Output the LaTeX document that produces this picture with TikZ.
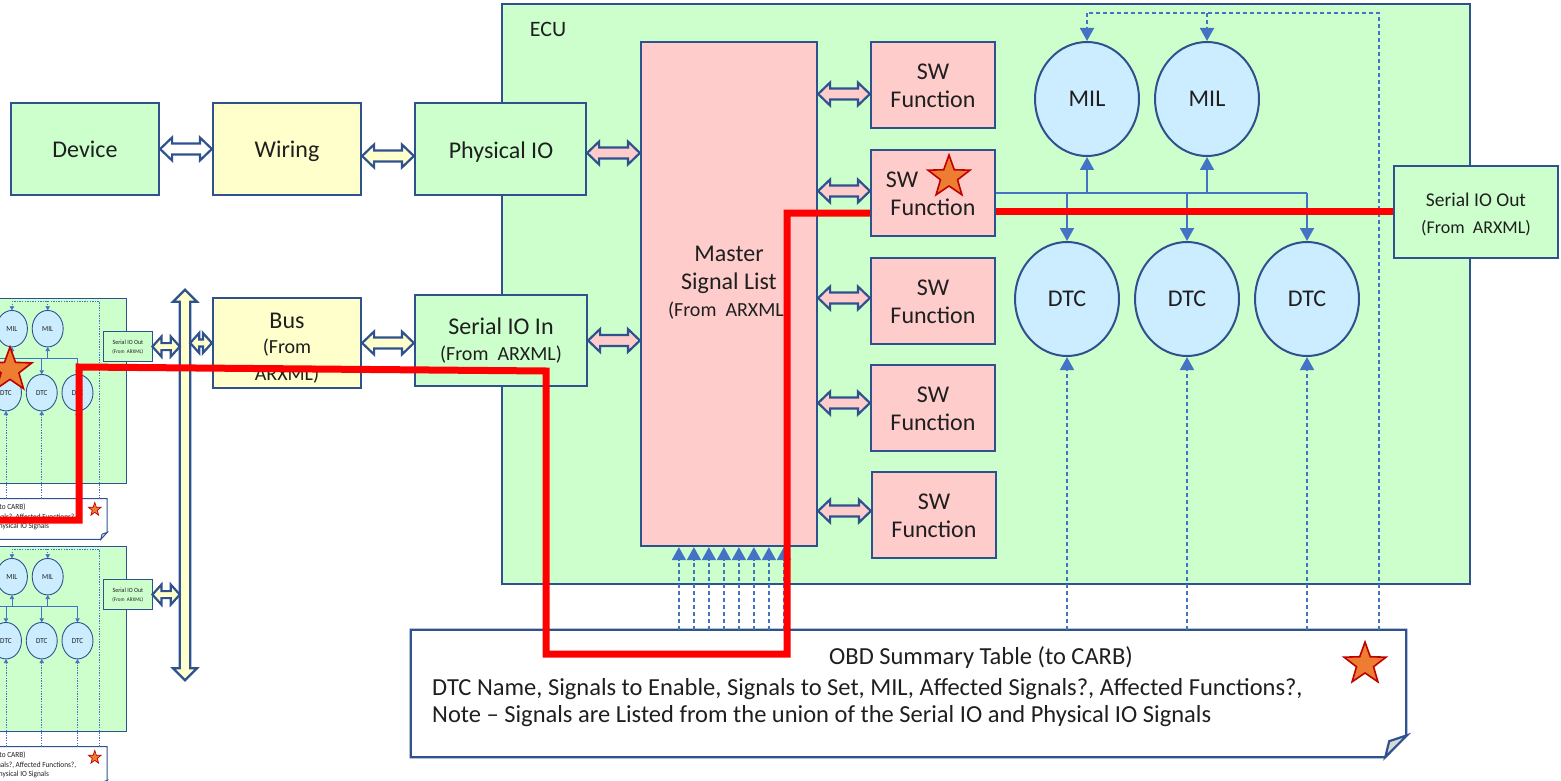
\documentclass[tikz,border=0pt]{standalone}
\usepackage{fontspec}
\setmainfont{Carlito}
\usetikzlibrary{shapes.geometric,arrows.meta,calc}

\definecolor{bord}{HTML}{2F528F}
\definecolor{gfill}{HTML}{CCFFCC}
\definecolor{yfill}{HTML}{FFFFCC}
\definecolor{pfill}{HTML}{FFCCCC}
\definecolor{bfill}{HTML}{CCECFF}
\definecolor{conn}{HTML}{4472C4}
\definecolor{starfill}{HTML}{ED7D31}
\definecolor{starline}{HTML}{C00000}
\definecolor{txt}{HTML}{1F1F1F}
\definecolor{foldgray}{HTML}{D9D9D9}

% line widths and tip sizes (smaller values are set inside the thumbnails)
\def\bw{2.2pt}\def\cw{2pt}\def\lw{1.6pt}\def\aw{14pt}\def\al{13pt}
\def\don{4pt}\def\doff{3pt}\def\stw{1.6pt}

\tikzset{
  box/.style={draw=bord,line width=\bw,inner sep=0pt},
  grn/.style={box,fill=gfill},
  ylw/.style={box,fill=yfill},
  pnk/.style={box,fill=pfill},
  circ/.style={ellipse,draw=bord,line width=\cw,fill=bfill,
    minimum width=104,minimum height=114,inner sep=0pt},
  tx/.style 2 args={inner sep=0pt,text=txt,font=\fontsize{#1}{#1}\selectfont,
    text height=#2,text depth=0pt},
  link/.style={draw=conn,line width=\lw},
  tip/.style={-{Triangle[width=\aw,length=\al]}},
  dlink/.style={link,dash pattern=on \don off \doff},
  dblar/.style={draw=bord,line width=\bw,line join=miter},
  redline/.style={draw=red,line width=7pt,line join=miter},
  starn/.style={star,star points=5,star point ratio=2.45,minimum size=#1,
    inner sep=0pt,fill=starfill,draw=starline,line width=\stw},
}

% horizontal block double arrow between two points:
% fill, left point, right point, head length, head half-width, shaft half-width
\newcommand\hdbl[6]{%
  \draw[dblar,fill=#1] let \p1=#2, \p2=#3 in
    (\x1,\y1) -- (\x1+#4,\y1+#5) -- (\x1+#4,\y1+#6) -- (\x2-#4,\y1+#6)
    -- (\x2-#4,\y1+#5) -- (\x2,\y1) -- (\x2-#4,\y1-#5) -- (\x2-#4,\y1-#6)
    -- (\x1+#4,\y1-#6) -- (\x1+#4,\y1-#5) -- cycle;}
\newcommand\bdbl[3]{\hdbl{#1}{#2}{#3}{12pt}{11.5pt}{5.5pt}}
\newcommand\sdbl[3]{\hdbl{#1}{#2}{#3}{9pt}{10pt}{3.5pt}}

% MIL / DTC lamps, their links and the OBD summary note
\newcommand\ecuright[1]{%
  \node[circ] (mila#1) at (1087,99) {};
  \node[circ] (milb#1) at (1207,99) {};
  \node[circ] (dtca#1) at (1067,299) {};
  \node[circ] (dtcb#1) at (1187,299) {};
  \node[circ] (dtcc#1) at (1307,299) {};
  \node[tx={24}{15.5pt}] (milat#1) at (mila#1) {MIL};
  \node[tx={24}{15.5pt}] (milbt#1) at (milb#1) {MIL};
  \node[tx={24}{15.5pt}] (dtcat#1) at (dtca#1) {DTC};
  \node[tx={24}{15.5pt}] (dtcbt#1) at (dtcb#1) {DTC};
  \node[tx={24}{15.5pt}] (dtcct#1) at (dtcc#1) {DTC};
  \draw[link] (treeo#1) -- (dtcc#1.north |- treeo#1);
  \draw[link,tip] (dtca#1.north |- treeo#1) -- (dtca#1.north);
  \draw[link,tip] (dtcb#1.north |- treeo#1) -- (dtcb#1.north);
  \draw[link,tip] (dtcc#1.north |- treeo#1) -- (dtcc#1.north);
  \draw[link,tip] (mila#1.south |- treeo#1) -- (mila#1.south);
  \draw[link,tip] (milb#1.south |- treeo#1) -- (milb#1.south);
  \node[inner sep=0pt,minimum width=995,minimum height=127] (note#1) at (908.5,693.5) {};
  \draw[box,fill=white,line join=miter] (note#1.north west) -- (note#1.north east)
    -- ($(note#1.south east)+(0,-22)$) -- ($(note#1.south east)+(-21,0)$)
    -- (note#1.south west) -- cycle;
  \draw[box,fill=foldgray,line join=miter] ($(note#1.south east)+(-21,0)$)
    -- ($(note#1.south east)+(-17,-16)$) -- ($(note#1.south east)+(1,-22)$) -- cycle;
  \node[tx={24.5}{15.8pt}] (nta#1) at (981,657) {OBD Summary Table (to CARB)};
  \node[tx={24.5}{15.8pt},anchor=west] (ntb#1) at (432,688)
    {DTC Name, Signals to Enable, Signals to Set, MIL, Affected Signals?, Affected Functions?,};
  \node[tx={24.5}{15.8pt},anchor=west] (ntc#1) at (432,715)
    {Note – Signals are Listed from the union of the Serial IO and Physical IO Signals};
  \node[starn=44] (nstar#1) at (1365,664) {};
  \coordinate (dtop#1) at (1379,13);
  \draw[dlink] (note#1.north -| dtop#1) -- (dtop#1) -- (mila#1.north |- dtop#1);
  \draw[dlink,tip] (mila#1.north |- dtop#1) -- (mila#1.north);
  \draw[dlink,tip] (milb#1.north |- dtop#1) -- (milb#1.north);
  \draw[dlink,tip] (dtca#1.south |- note#1.north) -- (dtca#1.south);
  \draw[dlink,tip] (dtcb#1.south |- note#1.north) -- (dtcb#1.south);
  \draw[dlink,tip] (dtcc#1.south |- note#1.north) -- (dtcc#1.south);
}

\begin{document}
\begin{tikzpicture}[x=1pt,y=-1pt]
\clip (0,0) rectangle (1561,781);
\fill[white] (0,0) rectangle (1561,781);

% ---------- two further ECUs on the bus, shown small at the left
\foreach \sfx/\ty in {a/297,b/545}{
  \begin{scope}[shift={(-312,\ty)},xscale=0.298,yscale=0.32,transform shape]
    \def\bw{0.9pt}\def\cw{0.9pt}\def\lw{0.7pt}\def\aw{4.5pt}\def\al{4pt}
    \def\don{1.3pt}\def\doff{1.3pt}\def\stw{0.7pt}
    \node[grn,minimum width=968,minimum height=580] (ecu-\sfx) at (986,294) {};
    \coordinate (treeo-\sfx) at (995,193);
    \ecuright{-\sfx}
    \node[grn,minimum width=164,minimum height=95] (sio-\sfx) at (1476,155) {};
    \node[tx={20}{12.9pt}] (siot-\sfx) at (1476,143) {Serial IO Out};
    \node[tx={17}{11pt}] (sios-\sfx) at (1476,171) {(From~~ARXML)};
  \end{scope}}

% ---------- main ECU
\node[grn,minimum width=968,minimum height=580] (ecu) at (986,294) {};
\node[tx={22}{14.2pt}] (ecut) at (548,29) {ECU};

\node[grn,minimum width=148,minimum height=92] (dev) at (85,149) {};
\node[tx={24}{15.5pt}] (devt) at (85,150) {Device};
\node[ylw,minimum width=148,minimum height=92] (wir) at (287,149) {};
\node[tx={24}{15.5pt}] (wirt) at (287,150) {Wiring};
\node[grn,minimum width=171,minimum height=92] (pio) at (500.5,149) {};
\node[tx={24}{15.5pt}] (piot) at (501,151) {Physical IO};

\node[ylw,minimum width=148,minimum height=90] (bus) at (287,343) {};
\node[tx={24}{15.5pt}] (busta) at (287,321) {Bus};
\node[tx={20}{12.9pt}] (bustb) at (287,347) {(From};
\node[tx={20}{12.9pt}] (bustc) at (287,374) {ARXML)};

\node[grn,minimum width=172,minimum height=91] (sii) at (501,340.5) {};
\node[tx={24}{15.5pt}] (siita) at (501,327) {Serial IO In};
\node[tx={20}{12.9pt}] (siitb) at (501,354) {(From~~ARXML)};

\node[pnk,minimum width=176,minimum height=504] (msl) at (729,294) {};
\node[tx={24}{15.5pt}] (mslta) at (729,254) {Master};
\node[tx={24}{15.5pt}] (msltb) at (729,282) {Signal List};
\node[tx={20}{12.9pt}] (msltc) at (729,310) {(From~~ARXML)};

\foreach \k/\xx/\yy in {1/933/85,2/933/193,3/933/301,4/933/408,5/934/515}{
  \node[pnk,minimum width=124,minimum height=86] (sw\k) at (\xx,\yy) {};
  \node[tx={24}{15.5pt}] (swf\k) at (\xx,\yy+15) {Function};}
\node[tx={24}{15.5pt}] (sws1) at (933,72) {SW};
\node[tx={24}{15.5pt}] (sws2) at (902,180) {SW};
\node[tx={24}{15.5pt}] (sws3) at (933,288) {SW};
\node[tx={24}{15.5pt}] (sws4) at (933,395) {SW};
\node[tx={24}{15.5pt}] (sws5) at (934,502) {SW};

\node[grn,minimum width=164,minimum height=92] (sio) at (1476,212) {};
\node[tx={19.5}{12.6pt}] (siot) at (1476,200) {Serial IO Out};
\node[tx={18}{11.6pt}] (sios) at (1476,228) {(From~~ARXML)};

\coordinate (treeo) at (sw2.east);
\ecuright{}

% signals from the summary table into the master signal list
\foreach \i in {0,...,7}{
  \coordinate (mslin\i) at ($(msl.south west)+(39+15*\i,0)$);
  \draw[dlink,tip] (mslin\i |- note.north) -- (mslin\i);}

% ---------- block arrows
\bdbl{white}{(dev.east)}{(wir.west)}
\coordinate (wp) at ([yshift=-7pt]wir.east);
\bdbl{yfill}{(wp)}{(wp -| pio.west)}
\coordinate (pm) at ([yshift=-4pt]pio.east);
\bdbl{pfill}{(pm)}{(pm -| msl.west)}
\bdbl{yfill}{(bus.east)}{(bus.east -| sii.west)}
\bdbl{pfill}{(sii.east)}{(sii.east -| msl.west)}
\foreach \k/\dy in {1/-9,2/2,3/3,4/5,5/4}{
  \coordinate (swa\k) at ([yshift=\dy pt]sw\k.west);
  \bdbl{pfill}{(swa\k -| msl.east)}{(swa\k)}}

% vehicle bus
\node[inner sep=0pt,minimum width=10,minimum height=390] (busbar) at (185,485) {};
\draw[dblar,fill=yfill] (busbar.north) -- ($(busbar.north)+(12,12)$)
  -- ($(busbar.north east)+(0,12)$) -- ($(busbar.south east)+(0,-12)$)
  -- ($(busbar.south)+(12,-12)$) -- (busbar.south) -- ($(busbar.south)+(-12,-12)$)
  -- ($(busbar.south west)+(0,-12)$) -- ($(busbar.north west)+(0,12)$)
  -- ($(busbar.north)+(-12,12)$) -- cycle;
\sdbl{yfill}{(sio-a.east)}{(sio-a.east -| busbar.west)}
\sdbl{yfill}{(sio-b.east)}{(sio-b.east -| busbar.west)}
\sdbl{yfill}{(bus.west -| busbar.east)}{(bus.west)}

% ---------- highlighted signal path
\coordinate (ra) at (0,520);
\coordinate (rb) at (79,520);
\coordinate (rc) at (79,367);
\coordinate (rd) at (546,371);
\coordinate (re) at (546,654);
\coordinate (rf) at (787,654);
\coordinate (rg) at (787,213);
\coordinate (rh) at (995,211);
\draw[redline] (ra) -- (rb) -- (rc) -- (rd) -- (re) -- (rf) -- (rg) -- (rg -| sw2.west);
\draw[redline] (rh -| sw2.east) -- (rh -| sio.west);

% ---------- marks
\node[starn=44] (swstar) at (949,177) {};
\node[starn=46] (ministar) at (10,370) {};
\end{tikzpicture}
\end{document}
